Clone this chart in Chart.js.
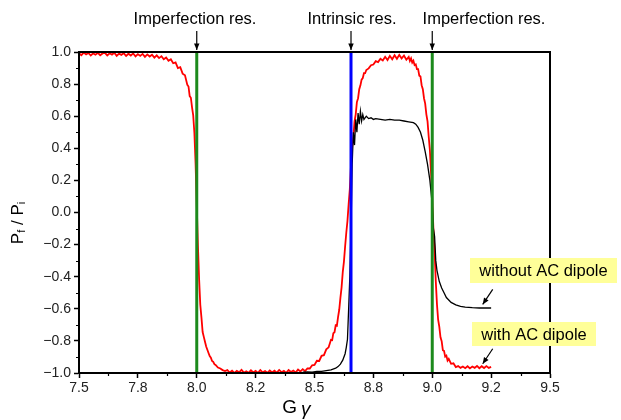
<!DOCTYPE html>
<html>
<head>
<meta charset="utf-8">
<script src="https://cdn.jsdelivr.net/npm/chart.js@4.4.0/dist/chart.umd.min.js"></script>
<style>
html, body { margin: 0; padding: 0; background: #fff; }
#wrap { width: 621px; height: 420px; }
</style>
</head>
<body>
<div id="wrap"><canvas id="polChart" width="621" height="420"></canvas></div>
<script>
// x tick labels (every 0.25 in G gamma, as printed on the original)
const xTickLabels = ['7.5', '7.8', '8.0', '8.2', '8.5', '8.8', '9.0', '9.2', '9.5'];

// resonance positions (G gamma) and their labels
const resGamma = [8.0, 8.655, 9.0];
const resNames = ['Imperfection res.', 'Intrinsic res.', 'Imperfection res.'];
const resColors = ['#1c8a1c', '#0000ff', '#1c8a1c'];

// with AC dipole (red)
const redGamma = [
  7.50, 7.51, 7.52, 7.53, 7.54, 7.55, 7.56, 7.57, 7.58, 7.59,
  7.60, 7.61, 7.62, 7.63, 7.64, 7.65, 7.66, 7.67, 7.68, 7.69,
  7.70, 7.71, 7.72, 7.73, 7.74, 7.75, 7.76, 7.77, 7.78, 7.79,
  7.80, 7.81, 7.82, 7.83, 7.84, 7.85, 7.86, 7.87, 7.88, 7.89,
  7.90, 7.91, 7.92, 7.93, 7.94, 7.95, 7.96, 7.965, 7.97, 7.975,
  7.98, 7.985, 7.99, 7.995, 8.0, 8.005, 8.01, 8.015, 8.02, 8.025,
  8.03, 8.035, 8.04, 8.045, 8.05, 8.055, 8.06, 8.065, 8.07, 8.075,
  8.08, 8.09, 8.10, 8.11, 8.12,
  8.13, 8.14, 8.15, 8.16, 8.17, 8.18, 8.19, 8.20, 8.21, 8.22,
  8.23, 8.24, 8.25, 8.26, 8.27, 8.28, 8.29, 8.30, 8.31, 8.32,
  8.33, 8.34, 8.35, 8.36, 8.37, 8.38, 8.39, 8.40, 8.41, 8.42,
  8.43, 8.44, 8.45, 8.46,
  8.47, 8.48, 8.49, 8.50, 8.51, 8.52, 8.53, 8.54, 8.55, 8.56,
  8.57, 8.575, 8.58, 8.585, 8.59, 8.595, 8.60, 8.605, 8.61, 8.615,
  8.62, 8.625, 8.63, 8.635, 8.64, 8.645, 8.65, 8.655, 8.66, 8.665,
  8.67, 8.675, 8.68, 8.685, 8.69, 8.695, 8.70, 8.705, 8.71, 8.715,
  8.72, 8.73, 8.74, 8.75, 8.76, 8.77, 8.78, 8.79, 8.80, 8.81,
  8.82, 8.83, 8.84, 8.85, 8.86, 8.87, 8.88, 8.89, 8.90, 8.905,
  8.91, 8.915, 8.92, 8.925, 8.93, 8.935, 8.94, 8.945, 8.95, 8.955,
  8.96, 8.965, 8.97, 8.975, 8.98, 8.985, 8.99, 8.995, 9.0, 9.005,
  9.01, 9.015, 9.02, 9.025, 9.03, 9.035, 9.04, 9.045, 9.05, 9.055,
  9.06, 9.065, 9.07, 9.08, 9.09, 9.10, 9.11, 9.12, 9.13, 9.14,
  9.15, 9.16, 9.17, 9.18, 9.19, 9.20, 9.21, 9.22, 9.23, 9.24,
  9.25
];
const redPol = [
  0.992, 0.980, 0.996, 0.985, 0.994, 0.978, 0.991, 0.983, 0.995, 0.980,
  0.991, 0.995, 0.979, 0.992, 0.984, 0.995, 0.976, 0.990, 0.982, 0.993,
  0.975, 0.989, 0.978, 0.991, 0.973, 0.987, 0.976, 0.988, 0.970, 0.985,
  0.972, 0.983, 0.965, 0.979, 0.962, 0.974, 0.955, 0.966, 0.945, 0.955,
  0.930, 0.935, 0.900, 0.905, 0.865, 0.855, 0.795, 0.785, 0.725, 0.715,
  0.655, 0.605, 0.495, 0.305, 0.045, -0.205, -0.415, -0.575, -0.655, -0.745,
  -0.775, -0.805, -0.835, -0.855, -0.875, -0.895, -0.905, -0.925, -0.930, -0.945,
  -0.950, -0.966, -0.972, -0.982, -0.988,
  -0.982, -0.997, -0.985, -0.999, -0.987, -0.996, -0.980, -0.998, -0.989, -0.999,
  -0.983, -0.997, -0.987, -0.999, -0.982, -0.996, -0.988, -0.999, -0.984, -0.997,
  -0.986, -0.998, -0.981, -0.995, -0.986, -0.999, -0.982, -0.994, -0.985, -0.997,
  -0.979, -0.991, -0.976, -0.988,
  -0.972, -0.972, -0.952, -0.950, -0.924, -0.925, -0.893, -0.889, -0.853, -0.840,
  -0.793, -0.795, -0.752, -0.746, -0.703, -0.706, -0.652, -0.606, -0.532, -0.466,
  -0.372, -0.306, -0.212, -0.126, -0.052, 0.052, 0.146, 0.292, 0.408, 0.472,
  0.568, 0.612, 0.688, 0.712, 0.768, 0.792, 0.828, 0.838, 0.868, 0.868,
  0.888, 0.898, 0.918, 0.922, 0.943, 0.937, 0.958, 0.947, 0.970, 0.950,
  0.976, 0.955, 0.980, 0.958, 0.982, 0.960, 0.978, 0.952, 0.970, 0.944,
  0.960, 0.934, 0.946, 0.918, 0.923, 0.893, 0.893, 0.853, 0.848, 0.793,
  0.768, 0.712, 0.678, 0.612, 0.568, 0.472, 0.388, 0.242, 0.088, -0.108,
  -0.242, -0.428, -0.572, -0.668, -0.712, -0.778, -0.802, -0.858, -0.862, -0.898,
  -0.892, -0.923, -0.912, -0.943, -0.940, -0.963, -0.957, -0.968, -0.960, -0.970,
  -0.958, -0.971, -0.960, -0.968, -0.956, -0.970, -0.958, -0.969, -0.957, -0.968,
  -0.962
];

// without AC dipole (black)
const blackGamma = [
  8.45, 8.47, 8.49, 8.51, 8.53, 8.55, 8.57, 8.59, 8.60, 8.61,
  8.62, 8.63, 8.635, 8.64, 8.645, 8.65, 8.655, 8.66, 8.665, 8.67,
  8.675, 8.68, 8.685, 8.69, 8.695, 8.70, 8.705, 8.71, 8.72, 8.73,
  8.74, 8.75, 8.76, 8.78, 8.80, 8.82, 8.84, 8.86, 8.88, 8.90,
  8.92, 8.93, 8.94, 8.95, 8.96, 8.97, 8.98, 8.99, 9.00, 9.005,
  9.01, 9.015, 9.02, 9.03, 9.04, 9.05, 9.06, 9.07, 9.08, 9.10,
  9.12, 9.14, 9.17, 9.20, 9.25
];
const blackPol = [
  -0.995, -0.993, -0.995, -0.990, -0.990, -0.985, -0.980, -0.970, -0.960, -0.945,
  -0.920, -0.880, -0.840, -0.790, -0.600, -0.400, -0.100, 0.300, 0.500, 0.420,
  0.580, 0.500, 0.620, 0.550, 0.630, 0.570, 0.610, 0.580, 0.600, 0.585,
  0.590, 0.580, 0.585, 0.580, 0.575, 0.580, 0.575, 0.575, 0.570, 0.565,
  0.560, 0.550, 0.530, 0.500, 0.450, 0.380, 0.300, 0.200, 0.050, -0.100,
  -0.150, -0.300, -0.360, -0.430, -0.470, -0.500, -0.530, -0.545, -0.560, -0.575,
  -0.585, -0.590, -0.593, -0.595, -0.595
];

const toPoints = (xs, ys) => xs.map((x, i) => ({ x: x, y: ys[i] }));

const resDatasets = resGamma.map((g, i) => ({
  label: resNames[i],
  data: [{ x: g, y: -1 }, { x: g, y: 1 }],
  borderColor: resColors[i],
  borderWidth: 3,
  pointRadius: 0,
  order: 0
}));

const FONT = "'Liberation Sans', Arial, sans-serif";

// frame, minor ticks, titles and annotations
const overlay = {
  id: 'overlay',
  afterDraw(chart) {
    const ctx = chart.ctx;
    const a = chart.chartArea;
    const xs = chart.scales.x, ys = chart.scales.y;
    ctx.save();

    // box
    ctx.strokeStyle = '#000';
    ctx.lineWidth = 2;
    ctx.strokeRect(a.left, a.top, a.right - a.left, a.bottom - a.top);

    // minor ticks
    ctx.lineWidth = 1.2;
    ctx.beginPath();
    for (let v = 7.625; v < 9.5; v += 0.25) {
      const px = Math.round(xs.getPixelForValue(v)) + 0.5;
      ctx.moveTo(px, a.bottom);
      ctx.lineTo(px, a.bottom + 3);
    }
    for (let v = -0.9; v < 1; v += 0.2) {
      const py = Math.round(ys.getPixelForValue(v)) + 0.5;
      ctx.moveTo(a.left, py);
      ctx.lineTo(a.left - 3, py);
    }
    ctx.stroke();

    // resonance labels with arrows
    ctx.fillStyle = '#000';
    ctx.font = '16.5px ' + FONT;
    ctx.textAlign = 'center';
    ctx.textBaseline = 'middle';
    const labelX = [195, 352, 484];
    resGamma.forEach((g, i) => {
      const px = xs.getPixelForValue(g);
      ctx.fillText(resNames[i], labelX[i], 19);
      drawArrow(ctx, px, 31, px, a.top - 2);
    });

    // x title
    ctx.font = '19px ' + FONT;
    ctx.textAlign = 'right';
    ctx.fillText('G', 297, 408);
    ctx.font = 'italic 19px ' + FONT;
    ctx.textAlign = 'left';
    ctx.fillText('\u03b3', 301, 410);

    // y title
    ctx.translate(18, 223);
    ctx.rotate(-Math.PI / 2);
    ctx.textAlign = 'left';
    const parts = [['P', 17, 0], ['f', 11, 4], [' / ', 17, 0], ['P', 17, 0], ['i', 11, 4]];
    let w = 0;
    parts.forEach(p => { ctx.font = p[1] + 'px ' + FONT; w += ctx.measureText(p[0]).width; });
    let cx = -w / 2;
    parts.forEach(p => {
      ctx.font = p[1] + 'px ' + FONT;
      ctx.fillText(p[0], cx, p[2]);
      cx += ctx.measureText(p[0]).width;
    });
    ctx.setTransform(1, 0, 0, 1, 0, 0);

    // series labels
    const tags = [
      { text: 'without AC dipole', box: [470, 258, 147, 25], tip: [9.21, -0.585] },
      { text: 'with AC dipole', box: [472, 322, 124, 24], tip: [9.21, -0.955] }
    ];
    ctx.font = '16.5px ' + FONT;
    ctx.textAlign = 'center';
    tags.forEach(t => {
      const [bx, by, bw, bh] = t.box;
      ctx.fillStyle = '#ffff99';
      ctx.fillRect(bx, by, bw, bh);
      ctx.fillStyle = '#000';
      ctx.fillText(t.text, bx + bw / 2, by + bh / 2 + 1);
      const tx = xs.getPixelForValue(t.tip[0]);
      const ty = ys.getPixelForValue(t.tip[1]);
      drawArrow(ctx, tx + 11, ty - 17, tx + 1, ty - 2);
    });

    ctx.restore();
  }
};

function drawArrow(ctx, x1, y1, x2, y2) {
  const ang = Math.atan2(y2 - y1, x2 - x1);
  ctx.save();
  ctx.strokeStyle = '#000';
  ctx.fillStyle = '#000';
  ctx.lineWidth = 1.2;
  ctx.beginPath();
  ctx.moveTo(x1, y1);
  ctx.lineTo(x2, y2);
  ctx.stroke();
  ctx.beginPath();
  ctx.moveTo(x2, y2);
  ctx.lineTo(x2 - 7 * Math.cos(ang - 0.4), y2 - 7 * Math.sin(ang - 0.4));
  ctx.lineTo(x2 - 7 * Math.cos(ang + 0.4), y2 - 7 * Math.sin(ang + 0.4));
  ctx.closePath();
  ctx.fill();
  ctx.restore();
}

const ctx = document.getElementById('polChart').getContext('2d');
const polChart = new Chart(ctx, {
  type: 'line',
  data: {
    datasets: [
      ...resDatasets,
      {
        label: 'without AC dipole',
        data: toPoints(blackGamma, blackPol),
        borderColor: '#000',
        borderWidth: 1.3,
        pointRadius: 0,
        order: 1
      },
      {
        label: 'with AC dipole',
        data: toPoints(redGamma, redPol),
        borderColor: '#ff0000',
        borderWidth: 1.8,
        pointRadius: 0,
        order: 2
      }
    ]
  },
  options: {
    responsive: false,
    devicePixelRatio: 1,
    animation: false,
    layout: { padding: { left: 0, top: 52, right: 71, bottom: 0 } },
    plugins: {
      legend: { display: false },
      tooltip: { enabled: false },
      title: { display: false }
    },
    scales: {
      x: {
        type: 'linear',
        min: 7.5,
        max: 9.5,
        afterFit: s => { s.height = 47; },
        ticks: {
          stepSize: 0.25,
          autoSkip: false,
          maxRotation: 0,
          padding: 2,
          color: '#222',
          font: { family: FONT, size: 14 },
          callback: v => xTickLabels[Math.round((v - 7.5) / 0.25)]
        },
        grid: { drawOnChartArea: false, tickLength: 5, tickColor: '#000', tickWidth: 1.5 },
        border: { color: '#000', width: 2 }
      },
      y: {
        min: -1,
        max: 1,
        afterFit: s => { s.width = 79; },
        ticks: {
          stepSize: 0.2,
          padding: 3,
          color: '#222',
          font: { family: FONT, size: 14 },
          callback: v => {
            const r = Math.round(v * 10) / 10;
            return (r === 0 ? '0.0' : r.toFixed(1)).replace('-', '\u2212');
          }
        },
        grid: { drawOnChartArea: false, tickLength: 5, tickColor: '#000', tickWidth: 1.5 },
        border: { color: '#000', width: 2 }
      }
    }
  },
  plugins: [overlay]
});
</script>
</body>
</html>
